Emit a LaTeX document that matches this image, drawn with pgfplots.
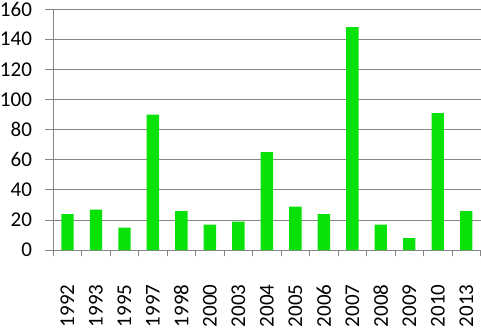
\documentclass[border=0pt]{standalone}
\usepackage{fontspec}
\setmainfont{Carlito}
\usepackage{pgfplots}
\pgfplotsset{compat=1.18}
\definecolor{bargreen}{RGB}{8,226,8}
\definecolor{gridgray}{RGB}{134,134,134}
\begin{document}
\begin{tikzpicture}
\begin{axis}[
  scale only axis,
  width=427pt, height=241pt,
  xmin=-0.5, xmax=14.5,
  ymin=0, ymax=160,
  ytick={0,20,...,160},
  xtick={0,...,14},
  xticklabels={1992,1993,1995,1997,1998,2000,2003,2004,2005,2006,2007,2008,2009,2010,2013},
  minor xtick={-0.5,0.5,...,14.5},
  axis x line*=bottom,
  axis y line*=left,
  axis line style={gridgray, line width=0.9pt},
  ymajorgrids,
  major grid style={gridgray, line width=0.9pt},
  tick align=outside,
  major tick style={gridgray, line width=0.9pt},
  minor tick style={gridgray, line width=0.9pt},
  major x tick style={draw=none},
  major tick length=8pt,
  minor tick length=6pt,
  /pgf/number format/assume math mode=true,
  tick label style={font=\fontsize{21}{25}\selectfont, inner sep=0pt, text=black},
  xticklabel style={rotate=90, anchor=east},
  xticklabel shift=26pt,
  yticklabel style={anchor=east},
  yticklabel shift=13pt,
  ybar, bar width=12.3pt,
]
\addplot[fill=bargreen, draw=none] coordinates {
  (0,24) (1,27) (2,15) (3,90) (4,26) (5,17) (6,19) (7,65)
  (8,29) (9,24) (10,148) (11,17) (12,8) (13,91) (14,26)
};
\end{axis}
\path (0,250pt);
\end{tikzpicture}
\end{document}
